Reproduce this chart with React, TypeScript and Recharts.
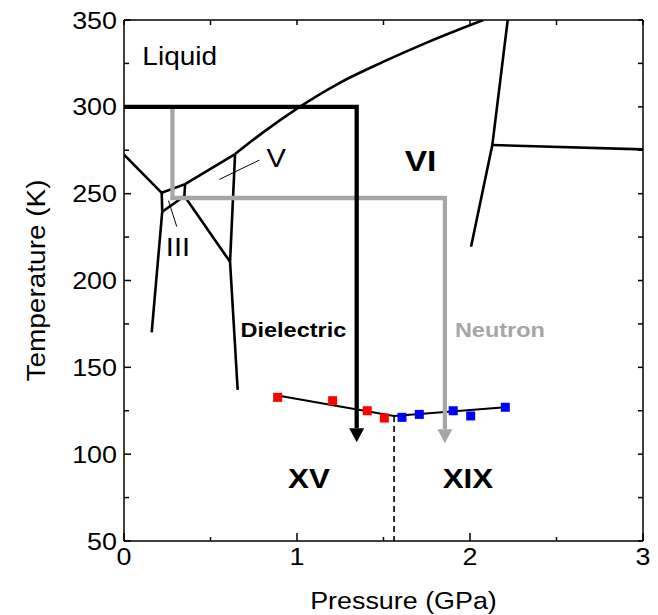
import React from 'react';
import { ComposedChart, Line, Scatter, XAxis, YAxis } from 'recharts';

// axis ticks
const pressureTicks = [0, 0.5, 1, 1.5, 2, 2.5, 3];
const temperatureTicks = [50, 75, 100, 125, 150, 175, 200, 225, 250, 275, 300, 325, 350];

// phase boundaries (GPa, K)
const ihMelt = [{ p: 0, t: 272.5 }, { p: 0.218, t: 250.5 }];
const iiiMelt = [{ p: 0.218, t: 250.5 }, { p: 0.353, t: 255.5 }];
const vMelt = [{ p: 0.353, t: 255.5 }, { p: 0.642, t: 272.8 }];
const viMelt = [
  { p: 0.642, t: 272.8 },
  { p: 0.8, t: 285 },
  { p: 1.0, t: 299 },
  { p: 1.25, t: 314 },
  { p: 1.5, t: 326 },
  { p: 1.75, t: 337 },
  { p: 2.077, t: 350 },
];
const ihIii = [{ p: 0.218, t: 250.5 }, { p: 0.221, t: 239.6 }];
const ihIi = [{ p: 0.221, t: 239.6 }, { p: 0.16, t: 170.1 }];
const iiIii = [{ p: 0.221, t: 239.6 }, { p: 0.349, t: 248.6 }];
const iiiV = [{ p: 0.353, t: 255.5 }, { p: 0.349, t: 248.6 }];
const iiV = [{ p: 0.349, t: 248.6 }, { p: 0.613, t: 210.8 }];
const vVi = [{ p: 0.642, t: 272.8 }, { p: 0.613, t: 210.8 }];
const iiVi = [{ p: 0.613, t: 210.8 }, { p: 0.657, t: 137 }];
const viVii = [{ p: 2.218, t: 350 }, { p: 2.129, t: 278 }, { p: 2.006, t: 219.4 }];
const viiViii = [{ p: 2.129, t: 278 }, { p: 3, t: 275.5 }];

const boundaries = [ihMelt, iiiMelt, vMelt, ihIii, ihIi, iiIii, iiiV, iiV, vVi, iiVi, viVii, viiViii];

// pointer lines for the small labels
const vPointer = [{ p: 0.551, t: 258.2 }, { p: 0.782, t: 269.3 }];
const iiiPointer = [{ p: 0.257, t: 246 }, { p: 0.305, t: 231 }];

// measurement paths (last point = arrow base)
const dielectricPath = [{ p: 0, t: 300 }, { p: 1.345, t: 300 }, { p: 1.345, t: 114.9 }];
const neutronPath = [{ p: 0.28, t: 300 }, { p: 0.28, t: 247.5 }, { p: 1.855, t: 247.5 }, { p: 1.855, t: 114.3 }];

// transition points
const xvPressure = [0.888, 1.206, 1.406, 1.505];
const xvTemp = [132.7, 130.8, 125.0, 120.8];
const xixPressure = [1.607, 1.707, 1.903, 2.004, 2.204];
const xixTemp = [121.2, 122.9, 125.0, 122.0, 127.0];

const xvPoints = xvPressure.map((p, i) => ({ p, t: xvTemp[i] }));
const xixPoints = xixPressure.map((p, i) => ({ p, t: xixTemp[i] }));

const xvFit = [{ p: 0.888, t: 133.8 }, { p: 1.561, t: 122 }];
const xixFit = [{ p: 1.561, t: 122 }, { p: 2.204, t: 127 }];
const xvXixBorder = [{ p: 1.561, t: 122 }, { p: 1.561, t: 50 }];

// phase names
const labels = [
  { p: 0.322, t: 329.2, text: 'Liquid' },
  { p: 1.714, t: 269.3, text: 'VI' },
  { p: 0.88, t: 270.6, text: 'V' },
  { p: 0.312, t: 219.7, text: 'III' },
  { p: 0.979, t: 171.9, text: 'Dielectric' },
  { p: 2.173, t: 171.9, text: 'Neutron' },
  { p: 1.069, t: 86.3, text: 'XV' },
  { p: 1.988, t: 86.3, text: 'XIX' },
];

const labelStyle: Record<string, { size: number; bold: boolean; fill: string }> = {
  Liquid: { size: 25, bold: false, fill: '#000' },
  VI: { size: 30, bold: true, fill: '#000' },
  V: { size: 26, bold: false, fill: '#000' },
  III: { size: 26, bold: false, fill: '#000' },
  Dielectric: { size: 21, bold: true, fill: '#000' },
  Neutron: { size: 21, bold: true, fill: '#a6a6a6' },
  XV: { size: 28, bold: true, fill: '#000' },
  XIX: { size: 28, bold: true, fill: '#000' },
};

const FONT = "'Liberation Sans', Arial, sans-serif";
const GRAY = '#a6a6a6';

function SText({ x, y, text, size, bold = false, fill = '#000', anchor = 'middle', rotate = false }: any) {
  const tf = `translate(${x},${y})${rotate ? ' rotate(-90)' : ''} scale(1.12,1)`;
  return (
    <text transform={tf} textAnchor={anchor} dy="0.36em" fontSize={size} fontWeight={bold ? 'bold' : 'normal'} fill={fill} fontFamily={FONT}>
      {text}
    </text>
  );
}

const BottomTick = (props: any) => {
  const { x, y, payload } = props;
  const major = Number.isInteger(payload.value);
  return (
    <g>
      <line x1={x} x2={x} y1={y} y2={y - (major ? 8 : 4)} stroke="#000" strokeWidth={1.5} />
      {major && <SText x={x} y={y + 15} text={String(payload.value)} size={24} />}
    </g>
  );
};

const LeftTick = (props: any) => {
  const { x, y, payload } = props;
  const major = payload.value % 50 === 0;
  return (
    <g>
      <line x1={x} x2={x + (major ? 7 : 5)} y1={y} y2={y} stroke="#000" strokeWidth={1.5} />
      {major && <SText x={x - 7} y={y} text={String(payload.value)} size={24} anchor="end" />}
    </g>
  );
};

const TopTick = (props: any) => {
  const { x, y } = props;
  return <line x1={x} x2={x} y1={y} y2={y + 5} stroke="#000" strokeWidth={1.5} />;
};

const RightTick = (props: any) => {
  const { x, y } = props;
  return <line x1={x} x2={x - 5} y1={y} y2={y} stroke="#000" strokeWidth={1.5} />;
};

const arrowDot = (color: string, last: number) => (props: any) => {
  const { cx, cy, index } = props;
  if (index !== last) return <g key={`d${index}`} />;
  return <path key={`d${index}`} d={`M${cx - 7.5},${cy} L${cx + 7.5},${cy} L${cx},${cy + 14} Z`} fill={color} />;
};

const square = (color: string) => (props: any) => (
  <rect x={props.cx - 4.5} y={props.cy - 4.5} width={9} height={9} fill={color} />
);

const labelShape = (props: any) => {
  const s = labelStyle[props.payload.text];
  return <SText x={props.cx} y={props.cy} text={props.payload.text} size={s.size} bold={s.bold} fill={s.fill} />;
};

const axisLine = { stroke: '#000', strokeWidth: 1.5 };

export default function App() {
  return (
    <div style={{ position: 'absolute', left: 0, top: 0 }}>
      <ComposedChart width={658} height={615} margin={{ top: 19, right: 14, bottom: 0, left: 0 }}>
        <XAxis
          xAxisId="x"
          dataKey="p"
          type="number"
          domain={[0, 3]}
          ticks={pressureTicks}
          allowDataOverflow
          height={74}
          tickSize={0}
          tickMargin={0}
          tickLine={false}
          axisLine={axisLine}
          tick={<BottomTick />}
          interval={0}
          label={{
            content: (p: any) => (
              <SText x={p.viewBox.x + p.viewBox.width / 2 + 20} y={p.viewBox.y + 59} text="Pressure (GPa)" size={24} />
            ),
          }}
        />
        <XAxis
          xAxisId="top"
          orientation="top"
          dataKey="p"
          type="number"
          domain={[0, 3]}
          ticks={pressureTicks}
          allowDataOverflow
          height={1}
          tickSize={0}
          tickMargin={0}
          tickLine={false}
          axisLine={axisLine}
          tick={<TopTick />}
          interval={0}
        />
        <YAxis
          yAxisId="y"
          type="number"
          domain={[50, 350]}
          ticks={temperatureTicks}
          allowDataOverflow
          width={124}
          tickSize={0}
          tickMargin={0}
          tickLine={false}
          axisLine={axisLine}
          tick={<LeftTick />}
          interval={0}
          label={{
            content: (p: any) => (
              <SText x={p.viewBox.x + 36} y={p.viewBox.y + p.viewBox.height / 2} text="Temperature (K)" size={25} rotate />
            ),
          }}
        />
        <YAxis
          yAxisId="right"
          orientation="right"
          type="number"
          domain={[50, 350]}
          ticks={temperatureTicks}
          allowDataOverflow
          width={1}
          tickSize={0}
          tickMargin={0}
          tickLine={false}
          axisLine={axisLine}
          tick={<RightTick />}
          interval={0}
        />

        {boundaries.map((b, i) => (
          <Line
            key={`b${i}`}
            xAxisId="x"
            yAxisId="y"
            data={b}
            dataKey="t"
            type="linear"
            stroke="#000"
            strokeWidth={2.6}
            dot={false}
            isAnimationActive={false}
          />
        ))}
        <Line
          xAxisId="x"
          yAxisId="y"
          data={viMelt}
          dataKey="t"
          type="monotone"
          stroke="#000"
          strokeWidth={2.6}
          dot={false}
          isAnimationActive={false}
        />
        {[vPointer, iiiPointer].map((b, i) => (
          <Line key={`ptr${i}`} xAxisId="x" yAxisId="y" data={b} dataKey="t" stroke="#000" strokeWidth={1} dot={false} isAnimationActive={false} />
        ))}

        <Line xAxisId="x" yAxisId="y" data={xvFit} dataKey="t" stroke="#000" strokeWidth={2} dot={false} isAnimationActive={false} />
        <Line xAxisId="x" yAxisId="y" data={xixFit} dataKey="t" stroke="#000" strokeWidth={2} dot={false} isAnimationActive={false} />
        <Line
          xAxisId="x"
          yAxisId="y"
          data={xvXixBorder}
          dataKey="t"
          stroke="#000"
          strokeWidth={1.6}
          strokeDasharray="6 4"
          dot={false}
          isAnimationActive={false}
        />

        <Scatter xAxisId="x" yAxisId="y" data={xvPoints} dataKey="t" shape={square('#ff0000')} isAnimationActive={false} />
        <Scatter xAxisId="x" yAxisId="y" data={xixPoints} dataKey="t" shape={square('#0000ff')} isAnimationActive={false} />

        <Line
          xAxisId="x"
          yAxisId="y"
          data={neutronPath}
          dataKey="t"
          stroke={GRAY}
          strokeWidth={4.3}
          strokeLinejoin="miter"
          dot={arrowDot(GRAY, neutronPath.length - 1)}
          isAnimationActive={false}
        />
        <Line
          xAxisId="x"
          yAxisId="y"
          data={dielectricPath}
          dataKey="t"
          stroke="#000"
          strokeWidth={4.3}
          strokeLinejoin="miter"
          dot={arrowDot('#000', dielectricPath.length - 1)}
          isAnimationActive={false}
        />

        <Scatter xAxisId="x" yAxisId="y" data={labels} dataKey="t" shape={labelShape} isAnimationActive={false} />

        {/* invisible series that anchors the top and right frame axes */}
        <Line
          xAxisId="top"
          yAxisId="right"
          data={xvXixBorder}
          dataKey="t"
          stroke="none"
          dot={false}
          activeDot={false}
          isAnimationActive={false}
        />
      </ComposedChart>
    </div>
  );
}
